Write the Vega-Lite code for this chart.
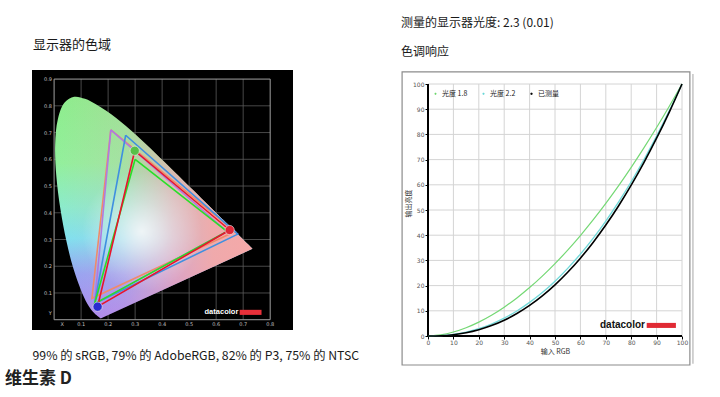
{
  "$schema": "https://vega.github.io/schema/vega-lite/v6.json",
  "background": "white",
  "padding": {"left": 5, "top": 16, "right": 5, "bottom": 3},
  "config": {"font": "Noto Sans CJK SC", "view": {"stroke": null}},
  "title": {"text": "维生素 D", "orient": "bottom", "anchor": "start", "frame": "bounds", "dx": -27, "offset": 5, "fontSize": 17, "fontWeight": "bold", "color": "#222222", "font": "Noto Sans CJK SC"},
  "spacing": 42,
  "datasets": {
    "locus": [
      {"i": 0, "x": 0.1741, "y": 0.005}, {"i": 1, "x": 0.1714, "y": 0.0051}, {"i": 2, "x": 0.1689, "y": 0.0069},
      {"i": 3, "x": 0.1644, "y": 0.0109}, {"i": 4, "x": 0.1566, "y": 0.0177}, {"i": 5, "x": 0.151, "y": 0.0227},
      {"i": 6, "x": 0.144, "y": 0.0297}, {"i": 7, "x": 0.1355, "y": 0.0399}, {"i": 8, "x": 0.1241, "y": 0.0578},
      {"i": 9, "x": 0.1096, "y": 0.0868}, {"i": 10, "x": 0.0913, "y": 0.1327}, {"i": 11, "x": 0.0687, "y": 0.2007},
      {"i": 12, "x": 0.0454, "y": 0.295}, {"i": 13, "x": 0.0235, "y": 0.4127}, {"i": 14, "x": 0.0082, "y": 0.5384},
      {"i": 15, "x": 0.0039, "y": 0.6548}, {"i": 16, "x": 0.0139, "y": 0.7502}, {"i": 17, "x": 0.0389, "y": 0.812},
      {"i": 18, "x": 0.0743, "y": 0.8338}, {"i": 19, "x": 0.1142, "y": 0.8262}, {"i": 20, "x": 0.1547, "y": 0.8059},
      {"i": 21, "x": 0.1929, "y": 0.7816}, {"i": 22, "x": 0.2296, "y": 0.7543}, {"i": 23, "x": 0.2658, "y": 0.7243},
      {"i": 24, "x": 0.3016, "y": 0.6923}, {"i": 25, "x": 0.3373, "y": 0.6589}, {"i": 26, "x": 0.3731, "y": 0.6245},
      {"i": 27, "x": 0.4087, "y": 0.5896}, {"i": 28, "x": 0.4441, "y": 0.5547}, {"i": 29, "x": 0.4788, "y": 0.5202},
      {"i": 30, "x": 0.5125, "y": 0.4866}, {"i": 31, "x": 0.5448, "y": 0.4544}, {"i": 32, "x": 0.5752, "y": 0.4242},
      {"i": 33, "x": 0.6029, "y": 0.3965}, {"i": 34, "x": 0.627, "y": 0.3725}, {"i": 35, "x": 0.6658, "y": 0.334},
      {"i": 36, "x": 0.6915, "y": 0.3083}, {"i": 37, "x": 0.7079, "y": 0.292}, {"i": 38, "x": 0.719, "y": 0.2809},
      {"i": 39, "x": 0.726, "y": 0.274}, {"i": 40, "x": 0.73, "y": 0.27}, {"i": 41, "x": 0.7334, "y": 0.2666},
      {"i": 42, "x": 0.7347, "y": 0.2653}
    ],
    "gamut": [
      {"g": "NTSC", "i": 0, "x": 0.21, "y": 0.71}, {"g": "NTSC", "i": 1, "x": 0.67, "y": 0.33}, {"g": "NTSC", "i": 2, "x": 0.14, "y": 0.08}, {"g": "NTSC", "i": 3, "x": 0.21, "y": 0.71},
      {"g": "AdobeRGB", "i": 0, "x": 0.21, "y": 0.71}, {"g": "AdobeRGB", "i": 1, "x": 0.64, "y": 0.33}, {"g": "AdobeRGB", "i": 2, "x": 0.15, "y": 0.06}, {"g": "AdobeRGB", "i": 3, "x": 0.21, "y": 0.71},
      {"g": "P3", "i": 0, "x": 0.265, "y": 0.69}, {"g": "P3", "i": 1, "x": 0.68, "y": 0.32}, {"g": "P3", "i": 2, "x": 0.15, "y": 0.06}, {"g": "P3", "i": 3, "x": 0.265, "y": 0.69},
      {"g": "sRGB", "i": 0, "x": 0.3, "y": 0.6}, {"g": "sRGB", "i": 1, "x": 0.64, "y": 0.33}, {"g": "sRGB", "i": 2, "x": 0.15, "y": 0.06}, {"g": "sRGB", "i": 3, "x": 0.3, "y": 0.6},
      {"g": "Measured", "i": 0, "x": 0.2985, "y": 0.632}, {"g": "Measured", "i": 1, "x": 0.65, "y": 0.3355}, {"g": "Measured", "i": 2, "x": 0.161, "y": 0.0487}, {"g": "Measured", "i": 3, "x": 0.2985, "y": 0.632}
    ],
    "balls": [
      {"c": "G", "x": 0.2985, "y": 0.632}, {"c": "R", "x": 0.65, "y": 0.3355}, {"c": "B", "x": 0.161, "y": 0.0487}
    ],
    "gx": [{"x": 0.1}, {"x": 0.2}, {"x": 0.3}, {"x": 0.4}, {"x": 0.5}, {"x": 0.6}, {"x": 0.7}],
    "gy": [{"y": 0.1}, {"y": 0.2}, {"y": 0.3}, {"y": 0.4}, {"y": 0.5}, {"y": 0.6}, {"y": 0.7}, {"y": 0.8}],
    "xl": [{"x": 0.03, "t": "X"}, {"x": 0.1, "t": "0.1"}, {"x": 0.2, "t": "0.2"}, {"x": 0.3, "t": "0.3"}, {"x": 0.4, "t": "0.4"}, {"x": 0.5, "t": "0.5"}, {"x": 0.6, "t": "0.6"}, {"x": 0.7, "t": "0.7"}, {"x": 0.8, "t": "0.8"}],
    "yl": [{"y": 0.024, "t": "Y"}, {"y": 0.1, "t": "0.1"}, {"y": 0.2, "t": "0.2"}, {"y": 0.3, "t": "0.3"}, {"y": 0.4, "t": "0.4"}, {"y": 0.5, "t": "0.5"}, {"y": 0.6, "t": "0.6"}, {"y": 0.7, "t": "0.7"}, {"y": 0.8, "t": "0.8"}, {"y": 0.9, "t": "0.9"}],
    "rgx": [{"x": 10}, {"x": 20}, {"x": 30}, {"x": 40}, {"x": 50}, {"x": 60}, {"x": 70}, {"x": 80}, {"x": 90}, {"x": 100}],
    "rgy": [{"y": 10}, {"y": 20}, {"y": 30}, {"y": 40}, {"y": 50}, {"y": 60}, {"y": 70}, {"y": 80}, {"y": 90}, {"y": 100}],
    "tone": [
      {"s": "光度 1.8", "x": 0, "y": 0}, {"s": "光度 1.8", "x": 5, "y": 0.46}, {"s": "光度 1.8", "x": 10, "y": 1.58}, {"s": "光度 1.8", "x": 15, "y": 3.29}, {"s": "光度 1.8", "x": 20, "y": 5.52}, {"s": "光度 1.8", "x": 25, "y": 8.25}, {"s": "光度 1.8", "x": 30, "y": 11.45}, {"s": "光度 1.8", "x": 35, "y": 15.11}, {"s": "光度 1.8", "x": 40, "y": 19.22}, {"s": "光度 1.8", "x": 45, "y": 23.76}, {"s": "光度 1.8", "x": 50, "y": 28.72}, {"s": "光度 1.8", "x": 55, "y": 34.09}, {"s": "光度 1.8", "x": 60, "y": 39.87}, {"s": "光度 1.8", "x": 65, "y": 46.05}, {"s": "光度 1.8", "x": 70, "y": 52.62}, {"s": "光度 1.8", "x": 75, "y": 59.58}, {"s": "光度 1.8", "x": 80, "y": 66.92}, {"s": "光度 1.8", "x": 85, "y": 74.64}, {"s": "光度 1.8", "x": 90, "y": 82.72}, {"s": "光度 1.8", "x": 95, "y": 91.18}, {"s": "光度 1.8", "x": 100, "y": 100},
      {"s": "光度 2.2", "x": 0, "y": 0}, {"s": "光度 2.2", "x": 5, "y": 0.14}, {"s": "光度 2.2", "x": 10, "y": 0.63}, {"s": "光度 2.2", "x": 15, "y": 1.54}, {"s": "光度 2.2", "x": 20, "y": 2.9}, {"s": "光度 2.2", "x": 25, "y": 4.74}, {"s": "光度 2.2", "x": 30, "y": 7.07}, {"s": "光度 2.2", "x": 35, "y": 9.93}, {"s": "光度 2.2", "x": 40, "y": 13.32}, {"s": "光度 2.2", "x": 45, "y": 17.26}, {"s": "光度 2.2", "x": 50, "y": 21.76}, {"s": "光度 2.2", "x": 55, "y": 26.84}, {"s": "光度 2.2", "x": 60, "y": 32.5}, {"s": "光度 2.2", "x": 65, "y": 38.76}, {"s": "光度 2.2", "x": 70, "y": 45.62}, {"s": "光度 2.2", "x": 75, "y": 53.11}, {"s": "光度 2.2", "x": 80, "y": 61.21}, {"s": "光度 2.2", "x": 85, "y": 69.94}, {"s": "光度 2.2", "x": 90, "y": 79.31}, {"s": "光度 2.2", "x": 95, "y": 89.33}, {"s": "光度 2.2", "x": 100, "y": 100},
      {"s": "已测量", "x": 0, "y": 0}, {"s": "已测量", "x": 5, "y": 0.1}, {"s": "已测量", "x": 10, "y": 0.5}, {"s": "已测量", "x": 15, "y": 1.27}, {"s": "已测量", "x": 20, "y": 2.47}, {"s": "已测量", "x": 25, "y": 4.12}, {"s": "已测量", "x": 30, "y": 6.27}, {"s": "已测量", "x": 35, "y": 8.94}, {"s": "已测量", "x": 40, "y": 12.15}, {"s": "已测量", "x": 45, "y": 15.94}, {"s": "已测量", "x": 50, "y": 20.31}, {"s": "已测量", "x": 55, "y": 25.29}, {"s": "已测量", "x": 60, "y": 30.89}, {"s": "已测量", "x": 65, "y": 37.13}, {"s": "已测量", "x": 70, "y": 44.02}, {"s": "已测量", "x": 75, "y": 51.6}, {"s": "已测量", "x": 80, "y": 59.86}, {"s": "已测量", "x": 85, "y": 68.81}, {"s": "已测量", "x": 90, "y": 78.48}, {"s": "已测量", "x": 95, "y": 88.87}, {"s": "已测量", "x": 100, "y": 100}
    ]
  },
  "hconcat": [
    {
      "width": 261,
      "height": 260,
      "view": {"fill": "#000000", "stroke": null},
      "title": {"text": " ", "subtitle": "显示器的色域", "anchor": "start", "frame": "group", "dx": 1, "fontSize": 12, "subtitleFontSize": 13, "subtitleColor": "#1a1a1a", "subtitleFont": "Noto Sans CJK SC", "subtitlePadding": 10, "offset": 17},
      "resolve": {"axis": {"x": "independent", "y": "independent"}},
      "layer": [
        {"data": {"name": "gx"}, "mark": {"type": "rule", "color": "#5a5a5a", "strokeWidth": 0.8},
          "encoding": {
            "x": {"field": "x", "type": "quantitative", "scale": {"domain": [-0.0818, 0.8845], "nice": false, "zero": false}, "axis": null},
            "y": {"datum": 0, "type": "quantitative", "scale": {"domain": [-0.0385, 0.934], "nice": false, "zero": false}, "axis": null}, "y2": {"datum": 0.9}}},
        {"data": {"name": "gy"}, "mark": {"type": "rule", "color": "#5a5a5a", "strokeWidth": 0.8},
          "encoding": {
            "x": {"datum": 0, "type": "quantitative", "scale": {"domain": [-0.0818, 0.8845], "nice": false, "zero": false}, "axis": null}, "x2": {"datum": 0.8},
            "y": {"field": "y", "type": "quantitative", "scale": {"domain": [-0.0385, 0.934], "nice": false, "zero": false}, "axis": null}}},
        {"data": {"values": [{}]}, "mark": {"type": "rect", "filled": false, "stroke": "#a0a0a0", "strokeWidth": 1},
          "encoding": {
            "x": {"datum": 0, "type": "quantitative", "scale": {"domain": [-0.0818, 0.8845], "nice": false, "zero": false}, "axis": null}, "x2": {"datum": 0.8},
            "y": {"datum": 0, "type": "quantitative", "scale": {"domain": [-0.0385, 0.934], "nice": false, "zero": false}, "axis": null}, "y2": {"datum": 0.9}}},
        {"data": {"name": "locus"}, "mark": {"type": "line", "interpolate": "catmull-rom", "strokeWidth": 0, "stroke": "transparent",
            "fill": {"gradient": "linear", "x1": 0, "y1": 0, "x2": 0, "y2": 1, "stops": [
              {"offset": 0, "color": "#8cee8c"}, {"offset": 0.3, "color": "#92f09c"}, {"offset": 0.5, "color": "#8aeccc"},
              {"offset": 0.64, "color": "#7ee2f0"}, {"offset": 0.8, "color": "#94a4f4"}, {"offset": 1, "color": "#a888f2"}]}},
          "encoding": {
            "x": {"field": "x", "type": "quantitative", "scale": {"domain": [-0.0818, 0.8845], "nice": false, "zero": false}, "axis": null},
            "y": {"field": "y", "type": "quantitative", "scale": {"domain": [-0.0385, 0.934], "nice": false, "zero": false}, "axis": null},
            "order": {"field": "i", "type": "quantitative"}}},
        {"data": {"name": "locus"}, "mark": {"type": "line", "interpolate": "catmull-rom", "strokeWidth": 0, "stroke": "transparent",
            "fill": {"gradient": "linear", "x1": 0, "y1": 0, "x2": 1, "y2": 0, "stops": [
              {"offset": 0, "color": "rgba(245,165,185,0)"}, {"offset": 0.35, "color": "rgba(245,165,190,0.2)"}, {"offset": 0.6, "color": "rgba(245,165,180,0.72)"},
              {"offset": 0.8, "color": "rgba(245,168,168,0.95)"}, {"offset": 1, "color": "rgba(245,168,168,1)"}]}},
          "encoding": {
            "x": {"field": "x", "type": "quantitative", "scale": {"domain": [-0.0818, 0.8845], "nice": false, "zero": false}, "axis": null},
            "y": {"field": "y", "type": "quantitative", "scale": {"domain": [-0.0385, 0.934], "nice": false, "zero": false}, "axis": null},
            "order": {"field": "i", "type": "quantitative"}}},
        {"data": {"name": "locus"}, "mark": {"type": "line", "interpolate": "catmull-rom", "strokeWidth": 0, "stroke": "transparent",
            "fill": {"gradient": "radial", "x1": 0.446, "y1": 0.608, "r1": 0, "x2": 0.446, "y2": 0.608, "r2": 0.27, "stops": [
              {"offset": 0, "color": "rgba(255,255,255,0.8)"}, {"offset": 0.5, "color": "rgba(255,255,255,0.35)"}, {"offset": 1, "color": "rgba(255,255,255,0)"}]}},
          "encoding": {
            "x": {"field": "x", "type": "quantitative", "scale": {"domain": [-0.0818, 0.8845], "nice": false, "zero": false}, "axis": null},
            "y": {"field": "y", "type": "quantitative", "scale": {"domain": [-0.0385, 0.934], "nice": false, "zero": false}, "axis": null},
            "order": {"field": "i", "type": "quantitative"}}},
        {"data": {"name": "gamut"}, "mark": {"type": "line", "strokeWidth": 1.6},
          "encoding": {
            "x": {"field": "x", "type": "quantitative", "scale": {"domain": [-0.0818, 0.8845], "nice": false, "zero": false},
              "axis": {"title": "99% 的 sRGB, 79% 的 AdobeRGB, 82% 的 P3, 75% 的 NTSC", "orient": "bottom", "labels": false, "ticks": false, "domain": false, "grid": false, "titleAnchor": "start", "titleAlign": "left", "titleFontSize": 12.3, "titleFontWeight": "normal", "titleColor": "#1a1a1a", "titlePadding": 19, "titleFont": "Noto Sans CJK SC"}},
            "y": {"field": "y", "type": "quantitative", "scale": {"domain": [-0.0385, 0.934], "nice": false, "zero": false}, "axis": null},
            "stroke": {"field": "g", "type": "nominal", "scale": {"domain": ["NTSC", "AdobeRGB", "P3", "sRGB", "Measured"], "range": ["#f08a6a", "#b07ae0", "#3f8fe0", "#28e028", "#e8142c"]}, "legend": null},
            "detail": {"field": "g"},
            "order": {"field": "i", "type": "quantitative"}}},
        {"data": {"name": "balls"}, "mark": {"type": "point", "filled": true, "size": 85, "stroke": "#eeeeee", "strokeWidth": 0.6, "opacity": 1},
          "encoding": {
            "x": {"field": "x", "type": "quantitative", "scale": {"domain": [-0.0818, 0.8845], "nice": false, "zero": false}, "axis": null},
            "y": {"field": "y", "type": "quantitative", "scale": {"domain": [-0.0385, 0.934], "nice": false, "zero": false}, "axis": null},
            "fill": {"field": "c", "type": "nominal", "scale": {"domain": ["G", "R", "B"], "range": ["#58c048", "#e02838", "#2a2ad0"]}, "legend": null}}},
        {"data": {"name": "xl"}, "mark": {"type": "text", "fontSize": 5, "color": "#c0c0c0", "align": "center", "baseline": "middle", "font": "DejaVu Sans"},
          "encoding": {
            "x": {"field": "x", "type": "quantitative", "scale": {"domain": [-0.0818, 0.8845], "nice": false, "zero": false}, "axis": null},
            "y": {"datum": -0.016, "type": "quantitative", "scale": {"domain": [-0.0385, 0.934], "nice": false, "zero": false}, "axis": null},
            "text": {"field": "t"}}},
        {"data": {"name": "yl"}, "mark": {"type": "text", "fontSize": 5, "color": "#c0c0c0", "align": "right", "baseline": "middle", "font": "DejaVu Sans"},
          "encoding": {
            "x": {"datum": -0.008, "type": "quantitative", "scale": {"domain": [-0.0818, 0.8845], "nice": false, "zero": false}, "axis": null},
            "y": {"field": "y", "type": "quantitative", "scale": {"domain": [-0.0385, 0.934], "nice": false, "zero": false}, "axis": null},
            "text": {"field": "t"}}},
        {"data": {"values": [{"t": "datacolor"}]}, "mark": {"type": "text", "fontSize": 7.5, "fontWeight": "bold", "color": "#ffffff", "align": "left", "baseline": "middle", "font": "Liberation Sans"},
          "encoding": {
            "x": {"datum": 0.557, "type": "quantitative", "scale": {"domain": [-0.0818, 0.8845], "nice": false, "zero": false}, "axis": null},
            "y": {"datum": 0.029, "type": "quantitative", "scale": {"domain": [-0.0385, 0.934], "nice": false, "zero": false}, "axis": null},
            "text": {"field": "t"}}},
        {"data": {"values": [{}]}, "mark": {"type": "rect", "color": "#e8303a"},
          "encoding": {
            "x": {"datum": 0.687, "type": "quantitative", "scale": {"domain": [-0.0818, 0.8845], "nice": false, "zero": false}, "axis": null}, "x2": {"datum": 0.768},
            "y": {"datum": 0.018, "type": "quantitative", "scale": {"domain": [-0.0385, 0.934], "nice": false, "zero": false}, "axis": null}, "y2": {"datum": 0.037}}}
      ]
    },
    {
      "width": 254,
      "height": 266,
      "view": {"stroke": null},
      "title": {"text": "测量的显示器光度: 2.3 (0.01)", "subtitle": "色调响应", "anchor": "start", "frame": "group", "dx": -27, "fontSize": 12, "fontWeight": "normal", "color": "#1a1a1a", "subtitleFontSize": 12, "subtitleColor": "#1a1a1a", "subtitleFont": "Noto Sans CJK SC", "subtitlePadding": 17, "offset": 11},
      "resolve": {"axis": {"x": "independent", "y": "independent"}},
      "layer": [
        {"data": {"values": [{}]}, "mark": {"type": "rule", "color": "#c8c8c8", "strokeWidth": 1.6},
          "encoding": {
            "x": {"datum": 104.3, "type": "quantitative", "scale": {"domain": [0, 100], "nice": false, "zero": false}, "axis": null},
            "y": {"datum": -11, "type": "quantitative", "scale": {"domain": [0, 105.556], "nice": false, "zero": false}, "axis": null}, "y2": {"datum": 104}}},
        {"data": {"values": [{}]}, "mark": {"type": "rect", "filled": false, "stroke": "#8c8c8c", "strokeWidth": 1.2},
          "encoding": {
            "x": {"datum": -10.2, "type": "quantitative", "scale": {"domain": [0, 100], "nice": false, "zero": false}, "axis": null}, "x2": {"datum": 103.1},
            "y": {"datum": -11.5, "type": "quantitative", "scale": {"domain": [0, 105.556], "nice": false, "zero": false}, "axis": null}, "y2": {"datum": 104.8}}},
        {"data": {"name": "rgx"}, "mark": {"type": "rule", "color": "#d4d4d4", "strokeWidth": 1},
          "encoding": {
            "x": {"field": "x", "type": "quantitative", "scale": {"domain": [0, 100], "nice": false, "zero": false}, "axis": null},
            "y": {"datum": 0, "type": "quantitative", "scale": {"domain": [0, 105.556], "nice": false, "zero": false}, "axis": null}, "y2": {"datum": 100}}},
        {"data": {"name": "rgy"}, "mark": {"type": "rule", "color": "#d4d4d4", "strokeWidth": 1},
          "encoding": {
            "x": {"datum": 0, "type": "quantitative", "scale": {"domain": [0, 100], "nice": false, "zero": false}, "axis": null}, "x2": {"datum": 100},
            "y": {"field": "y", "type": "quantitative", "scale": {"domain": [0, 105.556], "nice": false, "zero": false}, "axis": null}}},
        {"data": {"values": [{}]}, "mark": {"type": "rule", "color": "#000000", "strokeWidth": 2},
          "encoding": {
            "x": {"datum": 0, "type": "quantitative", "scale": {"domain": [0, 100], "nice": false, "zero": false}, "axis": null},
            "y": {"datum": 0, "type": "quantitative", "scale": {"domain": [0, 105.556], "nice": false, "zero": false}, "axis": null}, "y2": {"datum": 100}}},
        {"data": {"values": [{}]}, "mark": {"type": "rule", "color": "#000000", "strokeWidth": 2},
          "encoding": {
            "x": {"datum": 0, "type": "quantitative", "scale": {"domain": [0, 100], "nice": false, "zero": false}, "axis": null}, "x2": {"datum": 100},
            "y": {"datum": 0, "type": "quantitative", "scale": {"domain": [0, 105.556], "nice": false, "zero": false}, "axis": null}}},
        {"data": {"name": "tone"}, "mark": {"type": "line", "interpolate": "monotone"},
          "encoding": {
            "x": {"field": "x", "type": "quantitative", "scale": {"domain": [0, 100], "nice": false, "zero": false},
              "axis": {"values": [0, 10, 20, 30, 40, 50, 60, 70, 80, 90, 100], "orient": "bottom", "title": "输入 RGB", "titleFontSize": 7, "titleFontWeight": "normal", "titleColor": "#333333", "titlePadding": 2,
                "labelFontSize": 6, "labelColor": "#555555", "labelFont": "DejaVu Sans", "labelPadding": 0, "labelFlush": false, "tickSize": 3, "tickColor": "#000000", "domain": false, "grid": false}},
            "y": {"field": "y", "type": "quantitative", "scale": {"domain": [0, 105.556], "nice": false, "zero": false},
              "axis": {"values": [0, 10, 20, 30, 40, 50, 60, 70, 80, 90, 100], "orient": "left", "title": "输出亮度", "titleFontSize": 7, "titleFontWeight": "normal", "titleColor": "#333333", "titlePadding": 1,
                "labelFontSize": 6, "labelColor": "#555555", "labelFont": "DejaVu Sans", "labelPadding": 1, "labelFlush": false, "tickSize": 3, "tickColor": "#000000", "domain": false, "grid": false}},
            "color": {"field": "s", "type": "nominal", "scale": {"domain": ["光度 1.8", "光度 2.2", "已测量"], "range": ["#74d874", "#74dada", "#000000"]},
              "legend": {"title": null, "orient": "none", "legendX": 400, "legendY": 20, "direction": "horizontal", "padding": 0, "symbolType": "square", "symbolSize": 42, "symbolStrokeWidth": 0.8, "symbolStrokeColor": "#333333",
                "labelFontSize": 7, "labelFont": "Noto Sans CJK SC", "labelColor": "#222222", "labelOffset": 3, "columnPadding": 12,
                "encode": {"symbols": {"update": {
                  "fill": {"signal": "datum.value === '已测量' ? '#000000' : datum.value === '光度 1.8' ? '#30c830' : '#30c8c8'"},
                  "stroke": {"value": "#333333"}, "strokeWidth": {"value": 0.8}, "opacity": {"value": 1}, "fillOpacity": {"value": 1},
                  "size": {"value": 42}, "shape": {"value": "square"}}}}}},
            "size": {"field": "s", "type": "nominal", "scale": {"domain": ["光度 1.8", "光度 2.2", "已测量"], "range": [1.2, 1.6, 2.4]}, "legend": null}}},
        {"data": {"values": [{"t": "datacolor"}]}, "mark": {"type": "text", "fontSize": 10, "fontWeight": "bold", "color": "#111111", "align": "left", "baseline": "middle", "font": "Liberation Sans"},
          "encoding": {
            "x": {"datum": 67.7, "type": "quantitative", "scale": {"domain": [0, 100], "nice": false, "zero": false}, "axis": null},
            "y": {"datum": 4.5, "type": "quantitative", "scale": {"domain": [0, 105.556], "nice": false, "zero": false}, "axis": null},
            "text": {"field": "t"}}},
        {"data": {"values": [{}]}, "mark": {"type": "rect", "color": "#e02a34"},
          "encoding": {
            "x": {"datum": 86.1, "type": "quantitative", "scale": {"domain": [0, 100], "nice": false, "zero": false}, "axis": null}, "x2": {"datum": 97.6},
            "y": {"datum": 3.2, "type": "quantitative", "scale": {"domain": [0, 105.556], "nice": false, "zero": false}, "axis": null}, "y2": {"datum": 5.2}}}
      ]
    }
  ]
}
